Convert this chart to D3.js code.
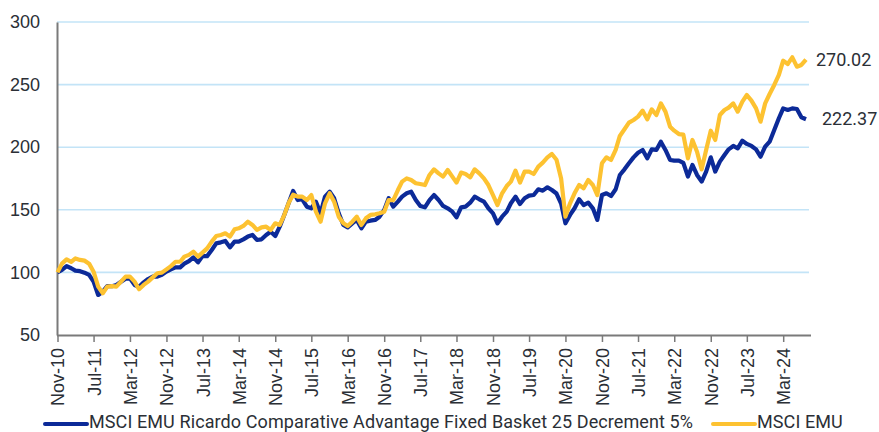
<!DOCTYPE html>
<html>
<head>
<meta charset="utf-8">
<script src="https://cdn.jsdelivr.net/npm/d3@7"></script>
<style>
  body { margin: 0; background: #fff; }
  svg { display: block; font-family: Roboto, "Liberation Sans", Arial, sans-serif; }
  .tick text { fill: #2b2f36; }
</style>
</head>
<body>
<svg id="chart" width="879" height="432"></svg>
<script>
// monthly index levels, Nov-10 .. Aug-24 (base 100)
const ricardo = [
  100, 102, 105, 103.3, 101.4, 101, 99.8, 98, 92.6, 82,
  84.6, 89, 89, 90, 92.6, 95, 95.3, 90, 88.6, 92,
  94.7, 96.6, 96.6, 98, 100.6, 102.4, 104, 104, 107, 109,
  112, 108, 113, 113, 117.9, 123.2, 124, 125.1, 120, 124.6,
  124.6, 126.4, 128.6, 129.9, 125.9, 126.4, 129.9, 132.5, 129.1, 136.5,
  146, 156, 165, 157.8, 158.4, 152.5, 151.2, 156.5, 147.2, 160.5,
  164.5, 159.2, 147.2, 137.9, 136, 139.2, 141.9, 135.2, 140.5, 141.3,
  141.9, 144.5, 149.9, 159.2, 152.5, 156.5, 160.5, 163.2, 164.5, 157.8,
  153.1, 152, 157.8, 161.8, 157.8, 153.1, 151.2, 148.5, 144, 152,
  152.5, 155.7, 160.5, 158.4, 156.5, 151.2, 147.2, 139.2, 144.5, 148.5,
  155.2, 160.5, 154.6, 159.2, 161.3, 161.8, 166.4, 165.3, 168, 165.8,
  163, 155, 139.2, 145.9, 151.2, 158.4, 153.8, 155.7, 151.2, 141.9,
  161.8, 163.2, 161, 166.4, 177.8, 182.3, 187.2, 191.9, 195.6, 197.8,
  191.1, 198.3, 197.8, 204.4, 197.8, 189.8, 189.3, 189.3, 187.5, 176.5,
  185.8, 177.8, 172.5, 180.5, 191.9, 180.5, 188.5, 193.8, 198.3, 201,
  199.1, 205.2, 202.6, 201, 198.3, 192.4, 200.4, 204.4, 213.7, 223.1,
  231, 229.7, 231, 230.5, 223.9, 222.37
];

const msciEmu = [
  100, 107, 110.4, 108.5, 111.2, 110, 109.4, 107, 100.6, 88.6,
  83.3, 88.6, 89, 88.6, 92.6, 96.6, 96.6, 92.6, 86.5, 90,
  92.6, 96, 99.3, 99.8, 102.4, 105, 108.5, 108.5, 112.6, 114,
  116.6, 112.6, 115.8, 119.2, 124.6, 129.1, 129.9, 131.2, 128.6, 134.4,
  135.2, 137.1, 140.5, 137.9, 133.9, 136, 136.5, 133.9, 139.2, 137.9,
  146, 156, 162, 160.5, 160.5, 157.8, 161.8, 148.5, 140.5, 155.2,
  163.2, 156.5, 144.5, 139.2, 137, 140.5, 144.5, 137.9, 143.2, 145.9,
  146.4, 147.2, 148.5, 157.8, 157.8, 165.8, 172.5, 175.1, 173.8, 171.2,
  170.6, 169.8, 177.8, 182.3, 179.1, 176.5, 181.8, 176.5, 171.7, 179.7,
  178.6, 175.9, 182.3, 179.1, 175.1, 169.8, 161.8, 153.8, 163.2, 169,
  172.5, 181.3, 171.7, 180.5, 180.5, 178.6, 184.5, 187.7, 191.9, 194.6,
  190, 175, 144.5, 155.2, 163.2, 169.8, 167.2, 173.8, 169.8, 161.8,
  187.2, 191.9, 189.8, 197.8, 209, 214.3, 219.6, 221.7, 224.4, 229.2,
  222.3, 230.2, 225.7, 235, 228.4, 216.4, 213.2, 210.5, 210, 191.1,
  205.8, 196.4, 182.3, 197.8, 213.2, 205.8, 225.7, 229.7, 231.6, 235,
  228.4, 236.4, 241.7, 237.2, 231, 220.4, 235, 242.5, 249.7, 257.7,
  269.1, 266.5, 271.8, 264.3, 265.7, 270.02
];

const seriesNames = ["MSCI EMU Ricardo Comparative Advantage Fixed Basket 25 Decrement 5%", "MSCI EMU"];
const seriesColors = ["#0c2a98", "#fdc231"];
const yTicks = [50, 100, 150, 200, 250, 300];
const tickEveryMonths = 8;

const start = new Date(2010, 10, 1);
const dates = ricardo.map((d, i) => d3.timeMonth.offset(start, i));

const svg = d3.select("#chart");
const plotLeft = 57, plotRight = 806, plotTop = 22, plotBottom = 335;

const x = d3.scaleTime()
    .domain([dates[0], dates[dates.length - 1]])
    .range([plotLeft + 0.5, plotRight]);

const y = d3.scaleLinear()
    .domain([50, 300])
    .range([plotBottom, plotTop]);

// gridlines
svg.append("g")
    .selectAll("line")
    .data(yTicks.filter(t => t > 50))
    .enter().append("line")
    .attr("x1", plotLeft)
    .attr("x2", plotRight + 3)
    .attr("y1", d => y(d))
    .attr("y2", d => y(d))
    .attr("stroke", "#c3e4f7")
    .attr("stroke-width", 1.6);

// y axis
const yAxis = svg.append("g")
    .attr("transform", `translate(${plotLeft},0)`)
    .call(d3.axisLeft(y).tickValues(yTicks).tickSize(0).tickPadding(17));
yAxis.select(".domain").attr("stroke", "#7a7a7a").attr("stroke-width", 2);
yAxis.selectAll("text").style("font-size", "18px");

// x axis
const tickDates = d3.range(0, dates.length, tickEveryMonths).map(m => dates[m]);
const xAxis = svg.append("g")
    .attr("transform", `translate(0,${plotBottom})`)
    .call(d3.axisBottom(x)
        .tickValues(tickDates)
        .tickFormat(d3.timeFormat("%b-%y"))
        .tickSize(7)
        .tickSizeOuter(0));
xAxis.select(".domain")
    .attr("d", `M${plotLeft},0.5H${plotRight + 5}`)
    .attr("stroke", "#7a7a7a")
    .attr("stroke-width", 2);
xAxis.selectAll(".tick line").attr("stroke", "#7a7a7a").attr("stroke-width", 1.5);
xAxis.selectAll("text")
    .attr("transform", "rotate(-90)")
    .attr("x", -13)
    .attr("y", 0)
    .attr("dy", "0.36em")
    .style("text-anchor", "end")
    .style("font-size", "18px");

// series lines
const line = d3.line()
    .x((d, i) => x(dates[i]))
    .y(d => y(d));

[ricardo, msciEmu].forEach((values, k) => {
    svg.append("path")
        .datum(values)
        .attr("fill", "none")
        .attr("stroke", seriesColors[k])
        .attr("stroke-width", 4.2)
        .attr("stroke-linejoin", "round")
        .attr("d", line);
});

// end labels
const last = dates.length - 1;
[[msciEmu, 10], [ricardo, 16]].forEach(([values, dx]) => {
    svg.append("text")
        .attr("x", x(dates[last]) + dx)
        .attr("y", y(values[last]))
        .attr("dy", "0.35em")
        .attr("fill", "#2b2f36")
        .style("font-size", "18px")
        .text(values[last].toFixed(2));
});

// legend
const legendItems = [
    { x1: 45, x2: 87, tx: 89 },
    { x1: 713, x2: 755, tx: 757 }
];
legendItems.forEach((item, k) => {
    svg.append("line")
        .attr("x1", item.x1).attr("x2", item.x2)
        .attr("y1", 424).attr("y2", 424)
        .attr("stroke", seriesColors[k])
        .attr("stroke-width", 4)
        .attr("stroke-linecap", "round");
    svg.append("text")
        .attr("x", item.tx)
        .attr("y", 428)
        .attr("fill", "#2b2f36")
        .style("font-size", "18px")
        .style("letter-spacing", "0.1px")
        .text(seriesNames[k]);
});
</script>
</body>
</html>
